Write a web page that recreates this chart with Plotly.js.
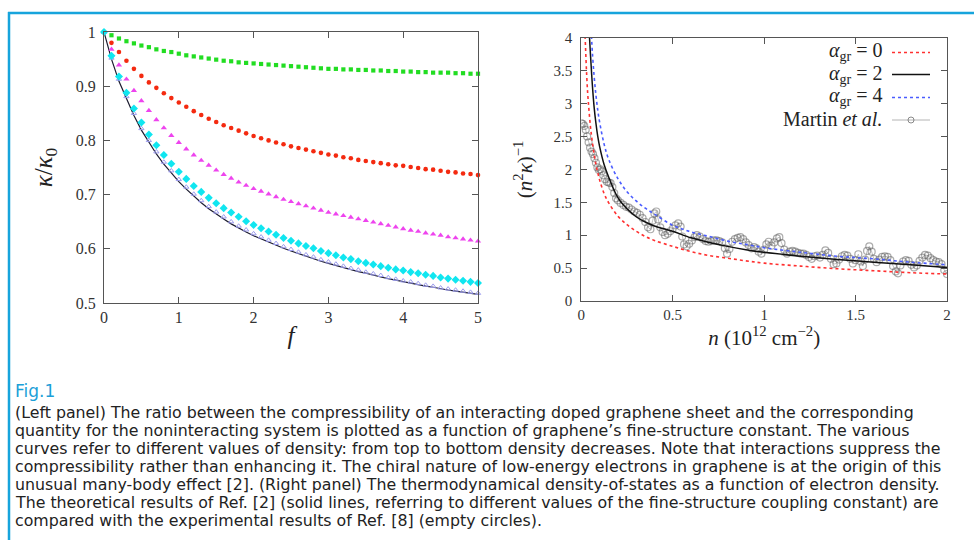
<!DOCTYPE html>
<html><head><meta charset="utf-8">
<script src="https://cdn.plot.ly/plotly-3.0.1.min.js"></script>
<style>html,body{margin:0;padding:0;background:#fff}#chart{width:974px;height:540px}</style>
</head><body><div id="chart"></div>
<script>
// ---------- Left panel data ----------
const fValues = [0,0.1,0.2,0.3,0.4,0.5,0.6,0.7,0.8,0.9,1.0,1.1,1.2,1.3,1.4,1.5,1.6,1.7,1.8,1.9,2.0,2.1,2.2,2.3,2.4,2.5,2.6,2.7,2.8,2.9,3.0,3.1,3.2,3.3,3.4,3.5,3.6,3.7,3.8,3.9,4.0,4.1,4.2,4.3,4.4,4.5,4.6,4.7,4.8,4.9,5.0];
const ratioGreen = [1.000,0.994,0.988,0.983,0.979,0.975,0.972,0.968,0.965,0.963,0.960,0.957,0.955,0.953,0.951,0.949,0.947,0.946,0.944,0.943,0.942,0.941,0.940,0.939,0.938,0.937,0.936,0.935,0.934,0.933,0.932,0.932,0.931,0.931,0.930,0.930,0.929,0.929,0.928,0.928,0.927,0.927,0.926,0.926,0.925,0.925,0.925,0.924,0.924,0.923,0.923];
const ratioRed = [1.000,0.980,0.963,0.947,0.932,0.919,0.907,0.897,0.887,0.878,0.870,0.862,0.854,0.847,0.840,0.834,0.828,0.823,0.818,0.813,0.808,0.804,0.800,0.796,0.793,0.789,0.786,0.783,0.780,0.777,0.774,0.772,0.769,0.767,0.764,0.762,0.760,0.758,0.756,0.754,0.753,0.751,0.749,0.747,0.746,0.744,0.742,0.741,0.739,0.738,0.736];
const ratioMagenta = [1.000,0.968,0.939,0.913,0.892,0.873,0.855,0.838,0.823,0.809,0.796,0.784,0.773,0.763,0.754,0.745,0.737,0.730,0.723,0.717,0.711,0.706,0.701,0.696,0.691,0.687,0.683,0.679,0.675,0.671,0.667,0.664,0.661,0.658,0.655,0.652,0.649,0.646,0.643,0.640,0.637,0.634,0.632,0.629,0.627,0.625,0.622,0.620,0.618,0.616,0.614];
const ratioCyan = [1.000,0.956,0.918,0.888,0.859,0.833,0.811,0.791,0.773,0.757,0.742,0.729,0.716,0.705,0.694,0.684,0.675,0.667,0.659,0.651,0.644,0.638,0.632,0.626,0.620,0.615,0.610,0.605,0.601,0.596,0.592,0.588,0.584,0.581,0.577,0.574,0.571,0.568,0.565,0.562,0.560,0.557,0.555,0.552,0.550,0.547,0.545,0.543,0.541,0.539,0.537];
const ratioLavender = [1.000,0.952,0.913,0.881,0.850,0.822,0.800,0.779,0.760,0.744,0.728,0.714,0.701,0.689,0.678,0.668,0.659,0.650,0.642,0.635,0.628,0.622,0.616,0.610,0.604,0.599,0.594,0.589,0.585,0.580,0.576,0.572,0.568,0.564,0.561,0.557,0.554,0.551,0.547,0.544,0.541,0.539,0.536,0.533,0.531,0.528,0.526,0.524,0.522,0.520,0.518];
const ratioBlackLine = [1.000,0.950,0.909,0.876,0.846,0.819,0.796,0.775,0.756,0.739,0.724,0.710,0.697,0.685,0.674,0.664,0.655,0.646,0.638,0.631,0.624,0.618,0.612,0.606,0.601,0.596,0.591,0.586,0.582,0.577,0.573,0.569,0.565,0.562,0.558,0.555,0.551,0.548,0.545,0.542,0.539,0.536,0.534,0.531,0.529,0.526,0.524,0.522,0.520,0.518,0.516];

// ---------- Right panel data ----------
const nTheory = [0.018,0.02,0.025,0.03,0.035,0.04,0.045,0.05,0.055,0.06,0.07,0.08,0.09,0.1,0.125,0.15,0.2,0.25,0.3,0.35,0.4,0.5,0.6,0.7,0.8,0.9,1.0,1.2,1.4,1.6,1.8,2.0];
const dosAlpha0 = [4.3,4.1,3.72,3.4,3.15,2.97,2.8,2.65,2.53,2.42,2.23,2.07,1.95,1.84,1.63,1.49,1.29,1.16,1.06,0.98,0.92,0.83,0.75,0.69,0.65,0.61,0.575,0.53,0.49,0.46,0.43,0.41];
const dosAlpha2 = [null,null,null,null,null,4.3,4.0,3.75,3.52,3.3,2.95,2.7,2.5,2.35,2.07,1.88,1.57,1.40,1.28,1.2,1.14,1.06,0.96,0.89,0.83,0.78,0.74,0.68,0.63,0.59,0.55,0.51];
const dosAlpha4 = [null,null,null,null,null,null,null,4.3,4.05,3.8,3.42,3.13,2.9,2.72,2.38,2.15,1.86,1.66,1.52,1.41,1.32,1.15,1.05,0.98,0.91,0.86,0.81,0.74,0.68,0.64,0.59,0.55];
const nMartin = [0.000,0.008,0.016,0.024,0.032,0.040,0.048,0.056,0.064,0.072,0.080,0.088,0.096,0.104,0.112,0.120,0.130,0.140,0.150,0.160,0.170,0.180,0.190,0.200,0.215,0.230,0.245,0.260,0.275,0.290,0.305,0.320,0.335,0.350,0.365,0.378,0.390,0.400,0.410,0.420,0.432,0.445,0.458,0.472,0.486,0.500,0.515,0.530,0.543,0.552,0.562,0.576,0.590,0.605,0.620,0.632,0.648,0.665,0.680,0.695,0.710,0.725,0.740,0.755,0.770,0.785,0.797,0.810,0.825,0.840,0.855,0.870,0.885,0.900,0.915,0.930,0.945,0.958,0.970,0.985,1.000,1.012,1.025,1.040,1.055,1.070,1.083,1.095,1.110,1.125,1.140,1.155,1.170,1.185,1.200,1.215,1.230,1.245,1.260,1.275,1.290,1.305,1.320,1.335,1.350,1.365,1.380,1.395,1.410,1.425,1.440,1.455,1.470,1.485,1.500,1.515,1.528,1.540,1.552,1.563,1.575,1.588,1.600,1.615,1.630,1.645,1.660,1.675,1.690,1.705,1.720,1.732,1.745,1.760,1.775,1.790,1.805,1.820,1.835,1.850,1.865,1.880,1.895,1.910,1.925,1.940,1.955,1.970,1.985,2.000];
const dosMartin = [2.70,2.69,2.66,2.60,2.50,2.41,2.33,2.27,2.23,2.17,2.10,2.03,1.99,2.00,1.97,1.91,1.85,1.81,1.80,1.79,1.73,1.64,1.56,1.53,1.49,1.46,1.43,1.42,1.39,1.36,1.34,1.31,1.26,1.20,1.12,1.09,1.22,1.33,1.36,1.24,1.12,1.05,1.00,1.02,1.06,1.10,1.15,1.18,1.13,0.98,0.86,0.83,0.87,0.92,0.97,1.00,0.98,0.94,0.91,0.90,0.91,0.92,0.92,0.91,0.89,0.80,0.72,0.79,0.90,0.94,0.96,0.97,0.94,0.89,0.85,0.80,0.82,0.80,0.75,0.72,0.78,0.86,0.90,0.84,0.89,0.95,0.97,0.88,0.78,0.72,0.75,0.76,0.75,0.73,0.72,0.72,0.70,0.67,0.64,0.68,0.69,0.66,0.70,0.77,0.73,0.64,0.56,0.57,0.63,0.68,0.70,0.69,0.64,0.57,0.62,0.71,0.60,0.53,0.63,0.76,0.83,0.75,0.64,0.59,0.63,0.67,0.68,0.67,0.62,0.53,0.45,0.42,0.54,0.60,0.62,0.61,0.55,0.51,0.54,0.61,0.66,0.70,0.69,0.65,0.62,0.60,0.59,0.56,0.47,0.41];

// ---------- Text ----------
const legendLabels = ['<i>α</i><sub>gr</sub> = 0','<i>α</i><sub>gr</sub> = 2','<i>α</i><sub>gr</sub> = 4','Martin <i>et al.</i>'];
const figLabel = 'Fig.1';
const captionLines = [
 '(Left panel) The ratio between the compressibility of an interacting doped graphene sheet and the corresponding',
 'quantity for the noninteracting system is plotted as a function of graphene’s fine-structure constant. The various',
 'curves refer to different values of density: from top to bottom density decreases. Note that interactions suppress the',
 'compressibility rather than enhancing it. The chiral nature of low-energy electrons in graphene is at the origin of this',
 'unusual many-body effect [2]. (Right panel) The thermodynamical density-of-states as a function of electron density.',
 'The theoretical results of Ref. [2] (solid lines, referring to different values of the fine-structure coupling constant) are',
 'compared with the experimental results of Ref. [8] (empty circles).'
];

const W = 974, H = 540;
const px = x => x / W, py = y => 1 - y / H;
const SERIF = 'Liberation Serif, DejaVu Serif, serif';
const SANS = 'DejaVu Sans, Liberation Sans, sans-serif';

const traces = [
 {x: fValues, y: ratioBlackLine, type:'scatter', mode:'lines', line:{color:'#1c1c30', width:1.2}, xaxis:'x', yaxis:'y', name:'reference', hoverinfo:'skip'},
 {x: fValues, y: ratioGreen, type:'scatter', mode:'markers', marker:{symbol:'square', size:4.2, color:'#22dd22'}, cliponaxis:false, xaxis:'x', yaxis:'y', name:'green'},
 {x: fValues, y: ratioRed, type:'scatter', mode:'markers', marker:{symbol:'circle', size:4.6, color:'#f42a10'}, cliponaxis:false, xaxis:'x', yaxis:'y', name:'red'},
 {x: fValues, y: ratioMagenta, type:'scatter', mode:'markers', marker:{symbol:'triangle-up', size:5.5, color:'#ee44ee'}, cliponaxis:false, xaxis:'x', yaxis:'y', name:'magenta'},
 {x: fValues, y: ratioLavender, type:'scatter', mode:'markers', marker:{symbol:'triangle-up-open', size:4.6, color:'#9c9cee', line:{width:1}}, cliponaxis:false, xaxis:'x', yaxis:'y', name:'lavender'},
 {x: fValues, y: ratioCyan, type:'scatter', mode:'markers', marker:{symbol:'diamond', size:6.2, color:'#10e6f0'}, cliponaxis:false, xaxis:'x', yaxis:'y', name:'cyan'},

 {x: nMartin, y: dosMartin, type:'scatter', mode:'lines+markers', line:{color:'rgba(150,150,150,0.6)', width:1}, marker:{symbol:'circle-open', size:7, color:'rgba(90,90,90,0.5)', line:{width:1.2}}, xaxis:'x2', yaxis:'y2', name:'Martin et al.'},
 {x: nTheory, y: dosAlpha0, type:'scatter', mode:'lines', line:{color:'#ff3030', width:1.6, dash:'dot', shape:'spline'}, xaxis:'x2', yaxis:'y2', name:'αgr = 0'},
 {x: nTheory, y: dosAlpha2, type:'scatter', mode:'lines', line:{color:'#111111', width:1.5, shape:'spline'}, xaxis:'x2', yaxis:'y2', name:'αgr = 2'},
 {x: nTheory, y: dosAlpha4, type:'scatter', mode:'lines', line:{color:'#4a5cff', width:1.6, dash:'dot', shape:'spline'}, xaxis:'x2', yaxis:'y2', name:'αgr = 4'}
];

const axisCommon = {ticks:'inside', ticklen:6, tickcolor:'#555', showline:true, linecolor:'#555', linewidth:1, mirror:'ticks', showgrid:false, zeroline:false, automargin:false, fixedrange:true};

const layout = {
 width: W, height: H, margin:{l:0,r:0,t:0,b:0}, paper_bgcolor:'#fff', plot_bgcolor:'#fff', showlegend:false,
 font:{family:SERIF, size:14, color:'#222'},
 xaxis: Object.assign({}, axisCommon, {domain:[px(104), px(478)], range:[0,5], tick0:0, dtick:1, anchor:'y',
   tickfont:{family:SERIF, size:16, color:'#333'},
   title:{text:'<i>f</i>', font:{family:SERIF, size:25, color:'#222'}, standoff:1}}),
 yaxis: Object.assign({}, axisCommon, {domain:[py(303), py(32)], range:[0.5,1], tick0:0.5, dtick:0.1, anchor:'x',
   ticklabelstandoff:4,
   tickfont:{family:SERIF, size:16, color:'#333'},
   title:{text:'<i>κ</i>/<i>κ</i><sub>0</sub>', font:{family:SERIF, size:25, color:'#222'}, standoff:16}}),
 xaxis2: Object.assign({}, axisCommon, {domain:[px(581.3), px(947)], range:[0,2], tick0:0, dtick:0.5, anchor:'y2',
   tickfont:{family:SERIF, size:15, color:'#333'},
   title:{text:'<i>n</i> (10<sup>12</sup> cm<sup>−2</sup>)', font:{family:SERIF, size:21, color:'#222'}, standoff:1}}),
 yaxis2: Object.assign({}, axisCommon, {domain:[py(301), py(37.7)], range:[0,4], tick0:0, dtick:0.5, anchor:'x2',
   ticklabelstandoff:5,
   tickfont:{family:SERIF, size:15, color:'#333'},
   title:{text:'(<i>n</i><sup>2</sup><i>κ</i>)<sup>−1</sup>', font:{family:SERIF, size:21, color:'#222'}, standoff:15}}),
 shapes: [
  {type:'line', xref:'paper', yref:'paper', x0:px(8), x1:1, y0:py(13), y1:py(13), line:{color:'#17a4dc', width:2.5}},
  {type:'line', xref:'paper', yref:'paper', x0:px(9), x1:px(9), y0:py(12), y1:0, line:{color:'#17a4dc', width:2.5}},
  {type:'line', xref:'paper', yref:'paper', x0:px(892), x1:px(930), y0:py(52.5), y1:py(52.5), line:{color:'#ff3030', width:1.6, dash:'dot'}},
  {type:'line', xref:'paper', yref:'paper', x0:px(892), x1:px(930), y0:py(74.5), y1:py(74.5), line:{color:'#111', width:1.5}},
  {type:'line', xref:'paper', yref:'paper', x0:px(892), x1:px(930), y0:py(97.5), y1:py(97.5), line:{color:'#4a5cff', width:1.6, dash:'dot'}},
  {type:'line', xref:'paper', yref:'paper', x0:px(892), x1:px(930), y0:py(120), y1:py(120), line:{color:'rgba(150,150,150,0.7)', width:1}},
  {type:'circle', xref:'paper', yref:'paper', x0:px(908), x1:px(914), y0:py(123), y1:py(117), line:{color:'rgba(110,110,110,0.8)', width:1}}
 ],
 annotations: []
};

const legendRows = [51.5, 74, 96.5, 119];
legendLabels.forEach((t,i) => layout.annotations.push({text:t, xref:'paper', yref:'paper', x:px(884), y:py(legendRows[i]), xanchor:'right', yanchor:'middle', showarrow:false, font:{family:SERIF, size:20, color:'#222'}}));

layout.annotations.push({text:figLabel, xref:'paper', yref:'paper', x:px(13), y:py(390.5), xanchor:'left', yanchor:'middle', showarrow:false, font:{family:SANS, size:17, color:'#1ba0d8'}});
const capStart = 412.5, capStep = 18;
captionLines.forEach((t,i) => layout.annotations.push({text:t, xref:'paper', yref:'paper', x:px(13), y:py(capStart + i*capStep), xanchor:'left', yanchor:'middle', showarrow:false, font:{family:SANS, size:15.8, color:'#222'}}));

Plotly.newPlot('chart', traces, layout, {displayModeBar:false});
</script></body></html>
